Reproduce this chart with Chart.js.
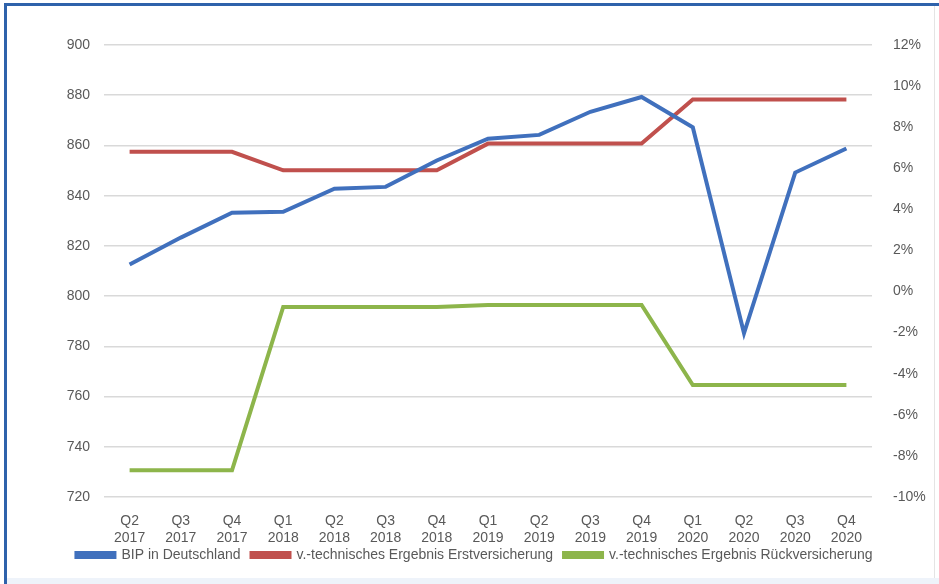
<!DOCTYPE html>
<html>
<head>
<meta charset="utf-8">
<script src="https://cdn.jsdelivr.net/npm/chart.js@4/dist/chart.umd.min.js"></script>
<style>
	html, body { margin: 0; padding: 0; background: #fff; }
	#wrap { position: relative; width: 939px; height: 584px; overflow: hidden; }
	#chart { position: absolute; left: 0; top: 0; }
	.edge { position: absolute; }
</style>
</head>
<body>
<div id="wrap">
	<canvas id="chart" width="939" height="584"></canvas>
	<div class="edge" style="left:4px;top:3px;width:3px;height:581px;background:#2e62ab"></div>
	<div class="edge" style="left:4px;top:3px;width:935px;height:3px;background:#2e62ab"></div>
	<div class="edge" style="left:934px;top:6px;width:1px;height:572px;background:#e4e4e4"></div>
	<div class="edge" style="left:7px;top:578px;width:932px;height:6px;background:#eef3fa"></div>
</div>
<script>
const quarters = ["Q2", "Q3", "Q4", "Q1", "Q2", "Q3", "Q4", "Q1", "Q2", "Q3", "Q4", "Q1", "Q2", "Q3", "Q4"];
const years = ["2017", "2017", "2017", "2018", "2018", "2018", "2018", "2019", "2019", "2019", "2019", "2020", "2020", "2020", "2020"];

// BIP in Deutschland (linke Achse, Mrd. EUR)
const bip = [812.6, 823.3, 833.2, 833.6, 842.8, 843.5, 854, 862.7, 864.2, 873.4, 879.3, 867.2, 785.2, 849.2, 858.8];
// v.-technisches Ergebnis (rechte Achse, %)
const erstversicherung = [6.8, 6.8, 6.8, 5.9, 5.9, 5.9, 5.9, 7.2, 7.2, 7.2, 7.2, 9.35, 9.35, 9.35, 9.35];
const rueckversicherung = [-8.7, -8.7, -8.7, -0.75, -0.75, -0.75, -0.75, -0.65, -0.65, -0.65, -0.65, -4.55, -4.55, -4.55, -4.55];

const leftTicks = [720, 740, 760, 780, 800, 820, 840, 860, 880, 900];
const rightTicks = [-10, -8, -6, -4, -2, 0, 2, 4, 6, 8, 10, 12];

const labels = quarters.map((q, i) => [q, years[i]]);
const font = { family: "'Liberation Sans', sans-serif", size: 14 };
const textColor = "#595959";

Chart.defaults.font = font;
Chart.defaults.color = textColor;

function line(label, data, color, axis) {
	return {
		label,
		data,
		yAxisID: axis,
		borderColor: color,
		backgroundColor: color,
		borderWidth: 4,
		pointRadius: 0,
		tension: 0,
		borderJoinStyle: "miter"
	};
}

// pull the legend up a bit closer to the two-line axis labels
const liftLegend = {
	id: "liftLegend",
	afterLayout(chart) {
		const l = chart.legend;
		if (l) {
			l.top -= 10;
			l.bottom -= 10;
		}
	}
};

new Chart(document.getElementById("chart"), {
	type: "line",
	data: {
		labels,
		datasets: [
			line("BIP in Deutschland", bip, "#4070bd", "y"),
			line("v.-technisches Ergebnis Erstversicherung", erstversicherung, "#c0504d", "y1"),
			line("v.-technisches Ergebnis Rückversicherung", rueckversicherung, "#8db54b", "y1")
		]
	},
	plugins: [liftLegend],
	options: {
		responsive: false,
		animation: false,
		layout: { padding: { top: 45, left: 10, right: 0, bottom: 2 } },
		plugins: {
			tooltip: { enabled: false },
			legend: {
				position: "bottom",
				labels: {
					boxWidth: 38,
					boxHeight: 4,
					padding: 11,
					color: textColor,
					font
				}
			}
		},
		scales: {
			x: {
				offset: true,
				grid: { display: false, offset: true },
				border: { display: false },
				afterFit: s => { s.height = 50; },
				ticks: { maxRotation: 0, autoSkip: false, padding: 7, color: textColor, font: { ...font, lineHeight: 1.25 } }
			},
			y: {
				position: "left",
				min: 720,
				max: 900,
				afterBuildTicks: s => { s.ticks = leftTicks.map(v => ({ value: v })); },
				afterFit: s => { s.width = 94; },
				grid: { color: "#d9d9d9", lineWidth: 1.5, drawTicks: false },
				border: { display: false },
				ticks: { padding: 14, color: textColor, font }
			},
			y1: {
				position: "right",
				min: -10,
				max: 12,
				afterBuildTicks: s => { s.ticks = rightTicks.map(v => ({ value: v })); },
				afterFit: s => { s.width = 67; },
				grid: { display: false },
				border: { display: false },
				ticks: { padding: 13, color: textColor, font, callback: v => v + "%" }
			}
		}
	}
});
</script>
</body>
</html>
